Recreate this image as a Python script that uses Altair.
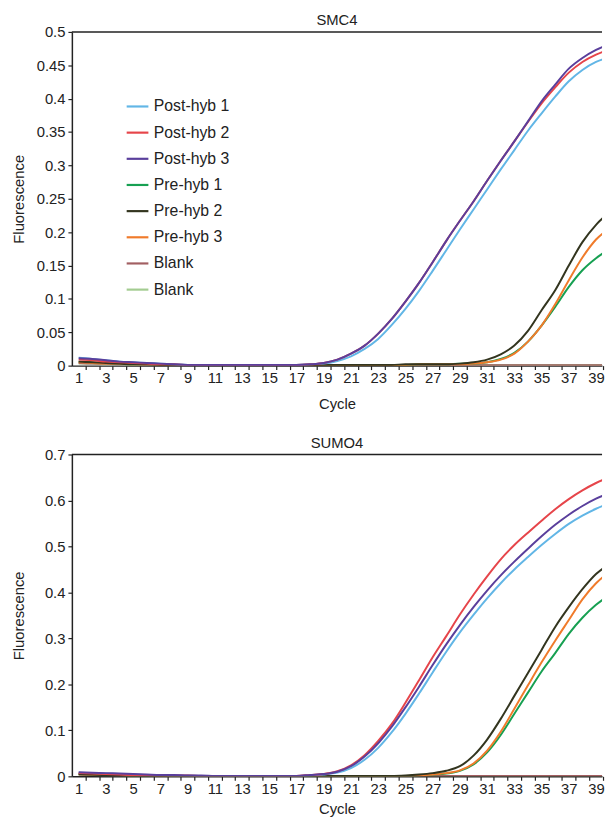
import altair as alt
import pandas as pd

cycles = list(range(1, 41))
series_names = ["Post-hyb 1", "Post-hyb 2", "Post-hyb 3", "Pre-hyb 1", "Pre-hyb 2", "Pre-hyb 3", "Blank", "Blank (2)"]
series_colors = ["#62b6e6", "#e6454a", "#5a3f9c", "#17a052", "#33351f", "#f07b2b", "#a25f62", "#a3cc91"]
draw_order = ["Blank (2)", "Blank", "Pre-hyb 1", "Pre-hyb 3", "Pre-hyb 2", "Post-hyb 1", "Post-hyb 2", "Post-hyb 3"]

# ---- SMC4 ----
smc4_post1 = [0.012, 0.010, 0.008, 0.006, 0.005, 0.004, 0.003, 0.002, 0.001, 0.001, 0.001, 0.001, 0.001, 0.001, 0.001, 0.001, 0.001,
              0.002, 0.003, 0.007, 0.014, 0.025, 0.040, 0.061, 0.085, 0.112, 0.142, 0.173, 0.204, 0.234, 0.264, 0.294, 0.323,
              0.352, 0.378, 0.403, 0.426, 0.443, 0.455, 0.462]
smc4_post2 = [0.009, 0.008, 0.006, 0.005, 0.004, 0.003, 0.002, 0.002, 0.001, 0.001, 0.001, 0.001, 0.001, 0.001, 0.001, 0.001, 0.001,
              0.002, 0.004, 0.009, 0.018, 0.030, 0.048, 0.070, 0.096, 0.124, 0.155, 0.187, 0.217, 0.246, 0.277, 0.307, 0.336,
              0.365, 0.393, 0.417, 0.439, 0.455, 0.466, 0.474]
smc4_post3 = [0.011, 0.010, 0.008, 0.006, 0.005, 0.004, 0.003, 0.002, 0.001, 0.001, 0.001, 0.001, 0.001, 0.001, 0.001, 0.001, 0.001,
              0.002, 0.004, 0.009, 0.018, 0.030, 0.048, 0.070, 0.096, 0.124, 0.155, 0.187, 0.217, 0.246, 0.277, 0.307, 0.336,
              0.366, 0.396, 0.421, 0.445, 0.461, 0.473, 0.482]
smc4_pre1 = [0.006, 0.005, 0.004, 0.003, 0.002, 0.002, 0.001, 0.001, 0.001, 0.001, 0.001, 0.001, 0.001, 0.001, 0.001, 0.001,
             0.001, 0.001, 0.001, 0.001, 0.001, 0.001, 0.001, 0.001, 0.001, 0.002, 0.002, 0.002, 0.003, 0.003, 0.005, 0.010,
             0.019, 0.036, 0.060, 0.088, 0.118, 0.143, 0.161, 0.175]
smc4_pre2 = [0.006, 0.005, 0.004, 0.003, 0.002, 0.002, 0.001, 0.001, 0.001, 0.001, 0.001, 0.001, 0.001, 0.001, 0.001, 0.001,
             0.001, 0.001, 0.001, 0.001, 0.001, 0.001, 0.001, 0.001, 0.002, 0.002, 0.002, 0.002, 0.003, 0.005, 0.009, 0.017,
             0.030, 0.052, 0.083, 0.113, 0.150, 0.185, 0.211, 0.230]
smc4_pre3 = [0.005, 0.004, 0.003, 0.003, 0.002, 0.002, 0.001, 0.001, 0.001, 0.001, 0.001, 0.001, 0.001, 0.001, 0.001, 0.001,
             0.001, 0.001, 0.001, 0.001, 0.001, 0.001, 0.001, 0.001, 0.001, 0.002, 0.002, 0.002, 0.002, 0.003, 0.005, 0.009,
             0.018, 0.036, 0.060, 0.092, 0.128, 0.162, 0.189, 0.206]
smc4_blank1 = [0.004, 0.003, 0.003, 0.002, 0.002, 0.001] + [0.0005] * 34
smc4_blank2 = [0.003, 0.003, 0.002, 0.002, 0.001, 0.001] + [0.001] * 34

# ---- SUMO4 ----
sumo4_post1 = [0.008, 0.007, 0.006, 0.005, 0.004, 0.003, 0.003, 0.002, 0.002, 0.001, 0.001, 0.001, 0.001, 0.001, 0.001, 0.001, 0.001,
               0.002, 0.004, 0.008, 0.018, 0.036, 0.062, 0.096, 0.136, 0.180, 0.226, 0.271, 0.313, 0.351, 0.387, 0.420, 0.450,
               0.477, 0.503, 0.527, 0.549, 0.567, 0.582, 0.594]
sumo4_post2 = [0.007, 0.006, 0.005, 0.004, 0.003, 0.003, 0.002, 0.002, 0.002, 0.001, 0.001, 0.001, 0.001, 0.001, 0.001, 0.001, 0.001,
               0.003, 0.005, 0.011, 0.024, 0.046, 0.077, 0.114, 0.160, 0.209, 0.259, 0.305, 0.352, 0.395, 0.435, 0.472, 0.503,
               0.530, 0.556, 0.581, 0.603, 0.622, 0.638, 0.651]
sumo4_post3 = [0.009, 0.008, 0.007, 0.006, 0.005, 0.004, 0.003, 0.003, 0.002, 0.002, 0.001, 0.001, 0.001, 0.001, 0.001, 0.001, 0.001,
               0.003, 0.005, 0.010, 0.022, 0.043, 0.072, 0.108, 0.150, 0.195, 0.242, 0.287, 0.329, 0.368, 0.404, 0.437, 0.467,
               0.495, 0.522, 0.547, 0.569, 0.588, 0.604, 0.616]
sumo4_pre1 = [0.005, 0.004, 0.003, 0.003, 0.002, 0.002, 0.001, 0.001, 0.001, 0.001, 0.001, 0.001, 0.001, 0.001, 0.001, 0.001,
              0.001, 0.001, 0.001, 0.001, 0.001, 0.001, 0.001, 0.001, 0.001, 0.002, 0.004, 0.006, 0.012, 0.026, 0.052, 0.090,
              0.136, 0.182, 0.228, 0.268, 0.310, 0.345, 0.373, 0.395]
sumo4_pre2 = [0.005, 0.004, 0.003, 0.003, 0.002, 0.002, 0.001, 0.001, 0.001, 0.001, 0.001, 0.001, 0.001, 0.001, 0.001, 0.001,
              0.001, 0.001, 0.001, 0.001, 0.001, 0.001, 0.001, 0.001, 0.002, 0.004, 0.007, 0.012, 0.022, 0.045, 0.080, 0.125,
              0.175, 0.225, 0.275, 0.325, 0.368, 0.407, 0.440, 0.462]
sumo4_pre3 = [0.005, 0.004, 0.003, 0.003, 0.002, 0.002, 0.001, 0.001, 0.001, 0.001, 0.001, 0.001, 0.001, 0.001, 0.001, 0.001,
              0.001, 0.001, 0.001, 0.001, 0.001, 0.001, 0.001, 0.001, 0.001, 0.002, 0.004, 0.007, 0.013, 0.028, 0.056, 0.097,
              0.147, 0.198, 0.248, 0.295, 0.340, 0.385, 0.420, 0.445]
sumo4_blank1 = [0.004, 0.003, 0.003, 0.002, 0.002, 0.001] + [0.0005] * 34
sumo4_blank2 = [0.003, 0.003, 0.002, 0.002, 0.001, 0.001] + [0.001] * 34

smc4_ticks = [0, 0.05, 0.1, 0.15, 0.2, 0.25, 0.3, 0.35, 0.4, 0.45, 0.5]
sumo4_ticks = [0, 0.1, 0.2, 0.3, 0.4, 0.5, 0.6, 0.7]

smc4 = {"Post-hyb 1": smc4_post1, "Post-hyb 2": smc4_post2, "Post-hyb 3": smc4_post3,
        "Pre-hyb 1": smc4_pre1, "Pre-hyb 2": smc4_pre2, "Pre-hyb 3": smc4_pre3,
        "Blank": smc4_blank1, "Blank (2)": smc4_blank2}
sumo4 = {"Post-hyb 1": sumo4_post1, "Post-hyb 2": sumo4_post2, "Post-hyb 3": sumo4_post3,
         "Pre-hyb 1": sumo4_pre1, "Pre-hyb 2": sumo4_pre2, "Pre-hyb 3": sumo4_pre3,
         "Blank": sumo4_blank1, "Blank (2)": sumo4_blank2}


def to_frame(d):
    rows = []
    for name in draw_order:
        for c, v in zip(cycles, d[name]):
            rows.append({"cycle": c, "series": name, "value": v})
    return pd.DataFrame(rows)


FONT = "Liberation Sans"
STEP = 13.79               # pixels per cycle
PLOT_W = 537               # visible part of the plot area (right side cut off)
X_END = 0.5 + PLOT_W / STEP
HALF = STEP / 2


def panel(d, title, ymax, yticks, height, show_legend, x_title_pad):
    if show_legend:
        legend = alt.Legend(
            title=None, orient="none", legendX=54, legendY=63,
            symbolType="stroke", symbolSize=484, symbolStrokeWidth=2.2,
            labelFont=FONT, labelFontSize=16, labelColor="#222", labelOffset=4,
            rowPadding=5.5, padding=0,
            labelExpr="datum.label == 'Blank (2)' ? 'Blank' : datum.label",
        )
    else:
        legend = None
    lines = alt.Chart(to_frame(d)).mark_line(strokeWidth=2, interpolate="monotone", clip=True).encode(
        x=alt.X("cycle:Q", title="Cycle",
                scale=alt.Scale(domain=[0.5, X_END], nice=False, zero=False),
                axis=alt.Axis(values=cycles[:39], format="d",
                              labelExpr="datum.value % 2 == 1 ? datum.label : ''",
                              tickOffset=HALF, labelOffset=-HALF, grid=False,
                              tickSize=4, labelPadding=1.5, titlePadding=x_title_pad,
                              labelFlush=False, labelOverlap=False)),
        y=alt.Y("value:Q", title="Fluorescence",
                scale=alt.Scale(domain=[0, ymax], nice=False),
                axis=alt.Axis(values=yticks, format=".2~f", grid=False,
                              tickSize=4, labelPadding=3, titleX=-46.5)),
        color=alt.Color("series:N", scale=alt.Scale(domain=series_names, range=series_colors), legend=legend),
    )
    border = alt.Chart(pd.DataFrame({"k": [0]})).mark_rule(color="#222", strokeWidth=1.5).encode(
        x=alt.value(0), x2=alt.value(PLOT_W), y=alt.value(0)
    )
    return alt.layer(lines, border).properties(
        width=PLOT_W, height=height,
        title=alt.TitleParams(title, font=FONT, fontSize=15, fontWeight="normal", color="#222", offset=-3),
    )


top = panel(smc4, "SMC4", 0.5, smc4_ticks, 338, True, 11)
bottom = panel(sumo4, "SUMO4", 0.7, sumo4_ticks, 326, False, 5)

chart = alt.vconcat(top, bottom, spacing=24).resolve_legend(color="independent").properties(
    padding={"left": 2.7, "top": 0, "right": 0, "bottom": 0},
    background="white",
).configure_view(strokeWidth=0).configure_axis(
    domainColor="#222", domainWidth=1.5, tickColor="#222", tickWidth=1.2,
    labelFont=FONT, labelFontSize=15, labelColor="#222",
    titleFont=FONT, titleFontSize=15, titleFontWeight="normal", titleColor="#222",
)

chart.save("out.html", embed_options={"renderer": "svg", "actions": False})
